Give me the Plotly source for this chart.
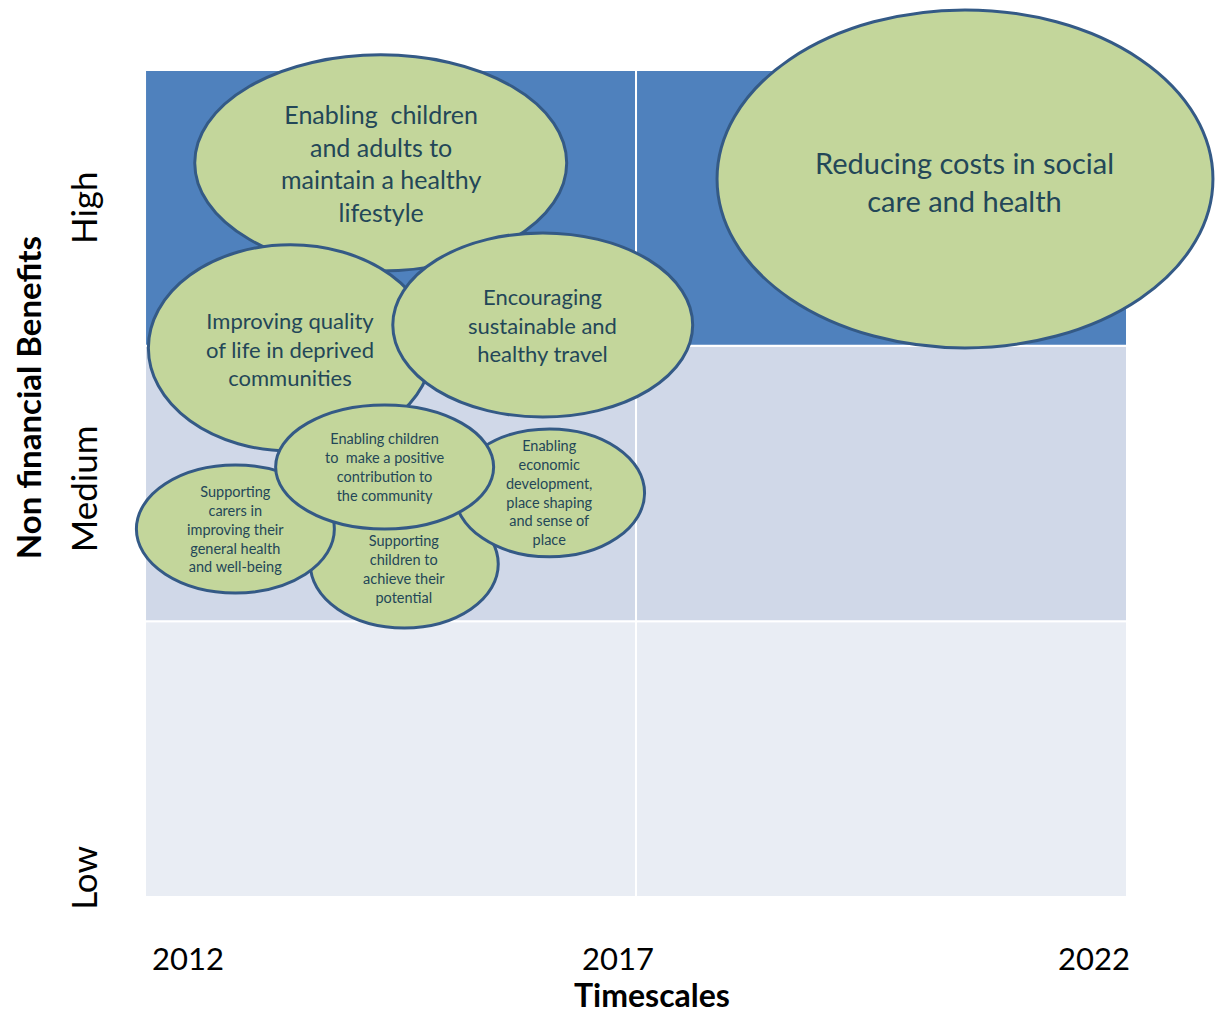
import plotly.graph_objects as go

# ---- data ----
year_edges = [2012, 2017, 2022]
level_names = ["Low", "Medium", "High"]
level_edges = [0, 1, 2, 3]
row_colors = ["#E9EDF4", "#D0D8E8", "#4F81BD"]

labels = [
    "Enabling  children<br>and adults to<br>maintain a healthy<br>lifestyle",
    "Reducing costs in social<br>care and health",
    "Improving quality<br>of life in deprived<br>communities",
    "Encouraging<br>sustainable and<br>healthy travel",
    "Supporting<br>children to<br>achieve their<br>potential",
    "Enabling<br>economic<br>development,<br>place shaping<br>and sense of<br>place",
    "Supporting<br>carers in<br>improving their<br>general health<br>and well-being",
    "Enabling children<br>to  make a positive<br>contribution to<br>the community",
]
center_year = [2014.40, 2020.35, 2013.48, 2016.05, 2014.64, 2016.12, 2012.92, 2014.44]
center_level = [2.663, 2.605, 1.992, 2.075, 1.208, 1.466, 1.335, 1.560]
half_width_years = [1.894, 2.525, 1.446, 1.527, 0.957, 0.967, 1.008, 1.110]
half_height_levels = [0.392, 0.613, 0.374, 0.334, 0.232, 0.232, 0.232, 0.225]
label_y_offset = [0.0, -0.01, -0.005, 0.0, -0.018, 0.0, 0.0, 0.0]
font_sizes = [25, 29, 22, 22, 14.5, 14.5, 14.5, 14.5]

x_tick_years = [2012, 2017, 2022]
x_tick_text = ["2012", "2017", "2022"]
y_label_pos = [0.07, 1.48, 2.50]

FONT = "Lato, 'Open Sans', sans-serif"
TEXT_C = "#234758"
EDGE_C = "#345A86"
FILL_C = "#C3D69B"

fig = go.Figure()
fig.add_trace(go.Scatter(x=[2012, 2022], y=[0, 3], mode="markers",
                         marker=dict(opacity=0), hoverinfo="skip", showlegend=False))

shapes = []
# background cells
for r in range(3):
    for c in range(2):
        shapes.append(dict(type="rect", xref="x", yref="y",
                           x0=year_edges[c], x1=year_edges[c + 1],
                           y0=level_edges[r], y1=level_edges[r + 1],
                           fillcolor=row_colors[r],
                           line=dict(color="white", width=2), layer="below"))
# ellipses
for i in range(len(labels)):
    shapes.append(dict(type="circle", xref="x", yref="y",
                       x0=center_year[i] - half_width_years[i],
                       x1=center_year[i] + half_width_years[i],
                       y0=center_level[i] - half_height_levels[i],
                       y1=center_level[i] + half_height_levels[i],
                       fillcolor=FILL_C, line=dict(color=EDGE_C, width=3),
                       layer="above"))
fig.update_layout(shapes=shapes)

annotations = []
for i in range(len(labels)):
    annotations.append(dict(x=center_year[i], y=center_level[i] + label_y_offset[i],
                            xref="x", yref="y", text=labels[i], showarrow=False,
                            font=dict(family=FONT, size=font_sizes[i], color=TEXT_C),
                            align="center"))
# x tick labels
anchors = ["left", "center", "right"]
xs = [2012.05, 2016.82, 2022.05]
for i in range(3):
    annotations.append(dict(x=xs[i], y=-0.22, xref="x", yref="y", text=x_tick_text[i],
                            showarrow=False, xanchor=anchors[i],
                            font=dict(family=FONT, size=31, color="black")))
# y labels
for i in range(3):
    annotations.append(dict(x=2011.37, y=y_label_pos[i], xref="x", yref="y",
                            text=level_names[i], textangle=-90, showarrow=False,
                            font=dict(family=FONT, size=35, color="black")))
annotations.append(dict(x=2010.81, y=1.81, xref="x", yref="y",
                        text="<b>Non financial Benefits</b>", textangle=-90,
                        showarrow=False, font=dict(family=FONT, size=33, color="black")))
annotations.append(dict(x=2017.16, y=-0.432, xref="x", yref="y",
                        text="<b>Timescales</b>", showarrow=False, yanchor="bottom",
                        font=dict(family=FONT, size=32, color="black")))
fig.update_layout(annotations=annotations)

fig.update_layout(
    width=1215, height=1018,
    margin=dict(l=0, r=0, t=0, b=0),
    paper_bgcolor="white", plot_bgcolor="white",
    xaxis=dict(range=[2010.523, 2022.896], visible=False, fixedrange=True),
    yaxis=dict(range=[-0.439, 3.254], visible=False, fixedrange=True),
    showlegend=False,
)

fig.write_html("out.html")
